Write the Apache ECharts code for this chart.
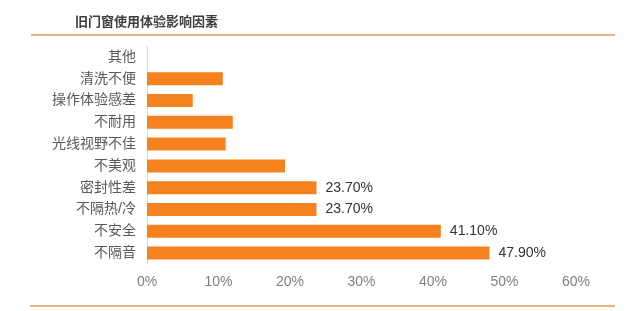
<!DOCTYPE html>
<html>
<head>
<meta charset="utf-8">
<script src="https://cdn.jsdelivr.net/npm/echarts@6/dist/echarts.min.js"></script>
<style>html,body{margin:0;padding:0;background:#fff;}#c{width:640px;height:311px;}</style>
</head>
<body>
<div id="c"></div>
<script>
var titleText = '旧门窗使用体验影响因素';
var categories = ['其他', '清洗不便', '操作体验感差', '不耐用', '光线视野不佳', '不美观', '密封性差', '不隔热/冷', '不安全', '不隔音'];
var values = [0, 10.6, 6.4, 12.0, 11.0, 19.3, 23.7, 23.7, 41.1, 47.9];
var labeled = [false, false, false, false, false, false, true, true, true, true];
var xTicks = {min: 0, max: 60, interval: 10};

var FONT = '"Liberation Sans", "Noto Sans CJK SC", sans-serif';
var chart = echarts.init(document.getElementById('c'), null, {renderer: 'canvas'});
chart.setOption({
  animation: false,
  backgroundColor: '#fff',
  title: {
    text: titleText, left: 70, top: 11, padding: 5,
    textStyle: {fontSize: 13, fontWeight: 'bold', color: '#404040', fontFamily: FONT}
  },
  graphic: [
    {type: 'line', shape: {x1: 31, y1: 35, x2: 615, y2: 35}, style: {stroke: '#e9b27f', lineWidth: 2}},
    {type: 'line', shape: {x1: 30, y1: 306, x2: 615, y2: 306}, style: {stroke: '#e9b27f', lineWidth: 2}}
  ],
  grid: {left: 147, right: 64, top: 46, bottom: 47, containLabel: false},
  xAxis: {
    type: 'value', min: xTicks.min, max: xTicks.max, interval: xTicks.interval,
    axisLine: {show: false}, axisTick: {show: false}, splitLine: {show: false},
    axisLabel: {formatter: '{value}%', color: '#7f7f7f', fontSize: 14, margin: 11, fontFamily: FONT}
  },
  yAxis: {
    type: 'category', data: categories, inverse: true,
    axisLine: {show: true, lineStyle: {color: '#d9d9d9', width: 1}},
    axisTick: {show: false},
    axisLabel: {color: '#595959', fontSize: 14, margin: 11, fontFamily: FONT}
  },
  series: [{
    type: 'bar',
    barWidth: 13,
    itemStyle: {color: '#f5821f'},
    data: values.map(function (v, i) {
      return {
        value: v,
        label: {
          show: labeled[i], position: 'right', distance: 9,
          formatter: function (p) { return p.value.toFixed(2) + '%'; },
          color: '#333', fontSize: 14, fontFamily: FONT
        }
      };
    })
  }]
});
</script>
</body>
</html>
